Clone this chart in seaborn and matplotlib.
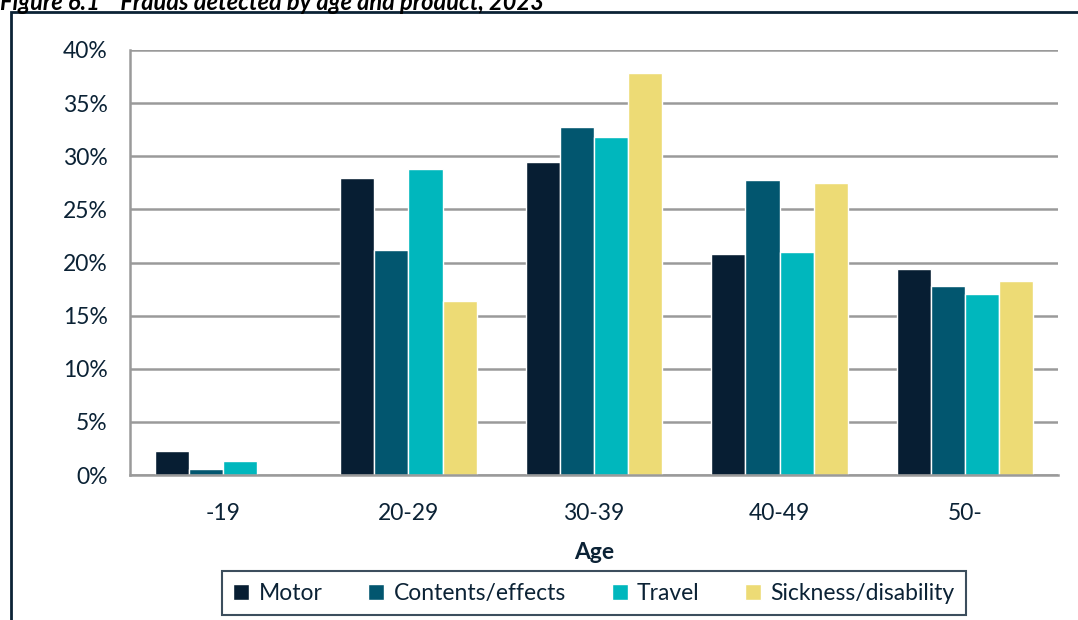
import matplotlib
matplotlib.use("Agg")
import matplotlib.pyplot as plt
from matplotlib.patches import Rectangle
import seaborn as sns
import pandas as pd

# Share of detected frauds by age band, per product (%)
ages = ["-19", "20-29", "30-39", "40-49", "50-"]
products = ["Motor", "Contents/effects", "Travel", "Sickness/disability"]
motor = [2.3, 28.0, 29.5, 20.8, 19.4]
contents = [0.6, 21.2, 32.8, 27.8, 17.8]
travel = [1.3, 28.8, 31.8, 21.0, 17.0]
sickness = [0.0, 16.4, 37.8, 27.5, 18.3]
colors = ["#071E33", "#02566F", "#00B7BD", "#EDDB75"]

rows = []
for prod, vals in zip(products, [motor, contents, travel, sickness]):
    for age, v in zip(ages, vals):
        rows.append({"Age": age, "Product": prod, "Share": v})
df = pd.DataFrame(rows)

sns.set_style("white")
plt.rcParams["font.family"] = ["Lato", "DejaVu Sans"]
text_color = "#0B2235"
grid_color = "#9A9A9A"
fs = 16.5

fig = plt.figure(figsize=(10.78, 6.2), dpi=100)
ax = fig.add_axes([130 / 1078, 1 - 475 / 620, 928 / 1078, 425 / 620])

sns.barplot(data=df, x="Age", y="Share", hue="Product", order=ages,
            hue_order=products, palette=colors, width=0.735, gap=0,
            saturation=1, ax=ax, legend=True)

ax.set_xlim(-0.5, 4.5)
ax.set_ylim(0, 40)
ax.set_yticks(range(0, 41, 5))
ax.set_yticklabels([f"{t}%" for t in range(0, 41, 5)], fontsize=fs,
                   color=text_color)
ax.set_xticks(range(len(ages)))
ax.set_xticklabels(ages, fontsize=fs, color=text_color)
ax.tick_params(axis="x", which="major", length=0, pad=20)
ax.set_xticks([i - 0.5 for i in range(len(ages) + 1)], minor=True)
ax.tick_params(axis="x", which="minor", length=8, width=1.5,
               color=grid_color, direction="out")
ax.tick_params(axis="y", length=8, width=1.5, color=grid_color,
               direction="out", pad=8)

ax.yaxis.grid(True, color=grid_color, linewidth=1.8)
ax.set_axisbelow(True)
for side in ["top", "right"]:
    ax.spines[side].set_visible(False)
for side in ["left", "bottom"]:
    ax.spines[side].set_color(grid_color)
    ax.spines[side].set_linewidth(1.8)

ax.set_xlabel("Age", fontsize=fs, fontweight="bold", color=text_color,
              labelpad=13)
ax.set_ylabel("")

leg = ax.legend(loc="upper center", bbox_to_anchor=(0.5, -0.2), ncol=4,
                frameon=True, fancybox=False, fontsize=fs,
                handlelength=0.7, handleheight=0.7, handletextpad=0.4,
                columnspacing=2.0, borderpad=0.5)
leg.get_frame().set_edgecolor(text_color)
leg.get_frame().set_linewidth(1.5)
for t in leg.get_texts():
    t.set_color(text_color)

# Outer frame of the figure panel
fig.patches.append(Rectangle((11 / 1078, -0.05), 1.2, 1 - 12 / 620 + 0.05,
                             transform=fig.transFigure, fill=False,
                             edgecolor=text_color, linewidth=2))

fig.text(0.0, 1 - 3 / 620, "Figure 6.1    Frauds detected by age and product, 2023",
         fontsize=17, fontweight="bold", fontstyle="italic", color="#000000",
         va="center", ha="left")

fig.savefig("out.png", dpi=100)
